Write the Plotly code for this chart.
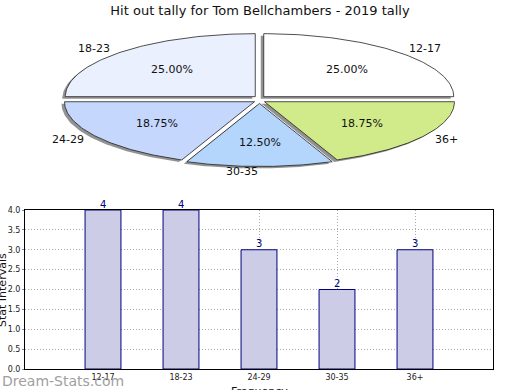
import math
import plotly.graph_objects as go

# ---- data ----
title_text = "Hit out tally for Tom Bellchambers - 2019 tally"
categories = ["12-17", "18-23", "24-29", "30-35", "36+"]
values = [4, 4, 3, 2, 3]
pie_order = ["12-17", "36+", "30-35", "24-29", "18-23"]  # clockwise from top
pie_colors = {"12-17": "#FFFFFF", "18-23": "#EAF0FD", "24-29": "#C5D7FD",
              "30-35": "#B4D6FD", "36+": "#D1EB8A"}
y_ticks = [0, 0.5, 1, 1.5, 2, 2.5, 3, 3.5, 4]

FONT = "DejaVu Sans"
fig = go.Figure()

# ---- elliptical exploded pie, drawn on a pixel-scaled axis ----
cx, cy, rx, ry = 259.5, 99.5, 190, 63
ex, ey = 6, 4
total = sum(values)
val_of = dict(zip(categories, values))

slices = []
acc = 0.0
for name in pie_order:
    v = val_of[name]
    a0 = acc / total * 2 * math.pi
    acc += v
    a1 = acc / total * 2 * math.pi
    slices.append((name, v, a0, a1))

def slice_poly(a0, a1, ox, oy):
    n = 80
    xs = [cx + ox]
    ys = [cy + oy]
    for i in range(n + 1):
        a = a0 + (a1 - a0) * i / n
        xs.append(cx + ox + rx * math.sin(a))
        ys.append(cy + oy - ry * math.cos(a))
    xs.append(cx + ox)
    ys.append(cy + oy)
    return xs, ys

# shadows
for name, v, a0, a1 in slices:
    mid = (a0 + a1) / 2
    ox, oy = ex * math.sin(mid), -ey * math.cos(mid)
    xs, ys = slice_poly(a0, a1, ox - 3, oy + 2)
    fig.add_trace(go.Scatter(x=xs, y=ys, xaxis="x2", yaxis="y2", mode="lines",
                             fill="toself", fillcolor="rgba(110,110,110,0.75)",
                             line=dict(width=0), hoverinfo="skip", showlegend=False))
# slices
for name, v, a0, a1 in slices:
    mid = (a0 + a1) / 2
    ox, oy = ex * math.sin(mid), -ey * math.cos(mid)
    xs, ys = slice_poly(a0, a1, ox, oy)
    fig.add_trace(go.Scatter(x=xs, y=ys, xaxis="x2", yaxis="y2", mode="lines",
                             fill="toself", fillcolor=pie_colors[name],
                             line=dict(color="#222222", width=0.8),
                             hoverinfo="skip", showlegend=False))

annotations = []
for name, v, a0, a1 in slices:
    mid = (a0 + a1) / 2
    ox, oy = ex * math.sin(mid), -ey * math.cos(mid)
    annotations.append(dict(
        x=cx + ox + 0.62 * rx * math.sin(mid), y=cy + oy - 0.62 * ry * math.cos(mid),
        xref="x2", yref="y2", text="%.2f%%" % (v / total * 100), showarrow=False,
        font=dict(family=FONT, size=11, color="#111111")))
    s = math.sin(mid)
    annotations.append(dict(
        x=cx + 1.1 * rx * s, y=cy - 1.15 * ry * math.cos(mid),
        xref="x2", yref="y2", text=name, showarrow=False,
        xanchor="left" if s > 1e-9 else "right", yanchor="middle",
        font=dict(family=FONT, size=11, color="#111111")))

# ---- bar chart ----
fig.add_trace(go.Bar(x=categories, y=values, width=0.46,
                     marker=dict(color="#CCCCE6", line=dict(color="#000080", width=1)),
                     showlegend=False, hoverinfo="skip"))
for c, v in zip(categories, values):
    annotations.append(dict(x=c, y=v, xref="x", yref="y", text=str(v),
                            showarrow=False, yanchor="middle", yshift=6,
                            font=dict(family=FONT, size=10, color="#000080")))

annotations.append(dict(x=0.0, y=1 - 381 / 390, xref="paper", yref="paper",
                        xanchor="left", yanchor="middle", text="Dream-Stats.com",
                        showarrow=False,
                        font=dict(family=FONT, size=14, color="#A0A0A0")))
annotations.append(dict(x=259 / 520, y=1 - 383 / 390, xref="paper", yref="paper",
                        xanchor="center", yanchor="top", text="Frequency",
                        showarrow=False, font=dict(family=FONT, size=11, color="#111111")))
annotations.append(dict(x=2 / 520, y=1 - 290 / 390, xref="paper", yref="paper",
                        xanchor="center", yanchor="middle", text="Stat Intervals",
                        textangle=-90, showarrow=False,
                        font=dict(family=FONT, size=11, color="#111111")))

DOT = "1px,2px"
fig.update_layout(
    template="none",
    width=520, height=390,
    margin=dict(l=0, r=0, t=0, b=0, autoexpand=False),
    paper_bgcolor="white", plot_bgcolor="white",
    title=dict(text=title_text, x=0.5, xanchor="center", y=1 - 10 / 390,
               yanchor="middle", font=dict(family=FONT, size=13, color="#111111")),
    font=dict(family=FONT),
    annotations=annotations,
    xaxis=dict(domain=[25 / 520, 493 / 520], range=[-1, 5], type="category",
               automargin=False,
               showgrid=True, gridcolor="#AAAAAA", griddash=DOT, gridwidth=1,
               showline=True, linecolor="#000000", linewidth=1, mirror=True,
               ticks="", tickfont=dict(family=FONT, size=8, color="#222222"),
               zeroline=False, fixedrange=True),
    yaxis=dict(domain=[1 - 369 / 390, 1 - 210 / 390], range=[0, 4],
               automargin=False,
               tickvals=y_ticks, ticktext=["%.1f" % t for t in y_ticks],
               showgrid=True, gridcolor="#AAAAAA", griddash=DOT, gridwidth=1,
               showline=True, linecolor="#000000", linewidth=1, mirror=True,
               ticks="outside", ticklen=2, tickcolor="#888888",
               tickfont=dict(family=FONT, size=8, color="#222222"),
               zeroline=False, fixedrange=True),
    xaxis2=dict(domain=[0, 1], range=[0, 520], visible=False, fixedrange=True,
                automargin=False),
    yaxis2=dict(domain=[0.5, 1], range=[195, 0], visible=False, fixedrange=True,
                automargin=False),
)

fig.write_html("out.html", config={"displayModeBar": False},
               post_script="document.body.style.margin='0';document.body.style.padding='0';")
